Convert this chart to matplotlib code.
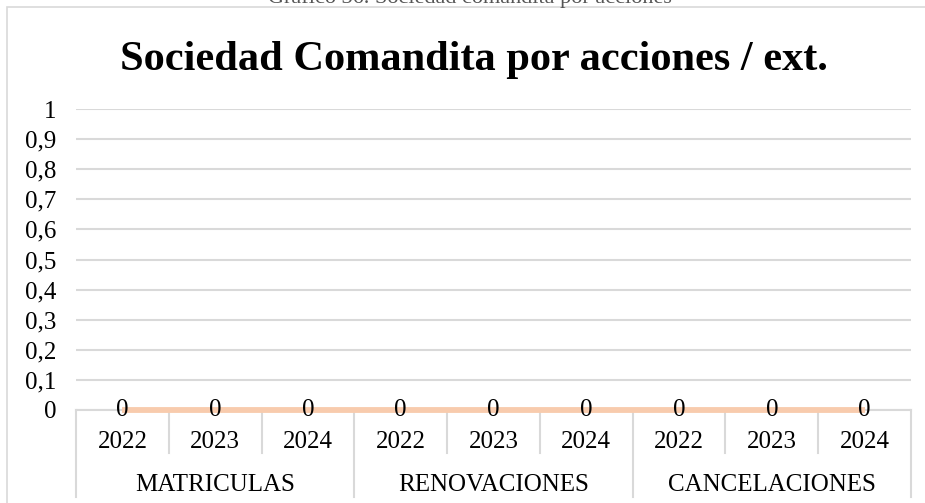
import matplotlib
matplotlib.use("Agg")
import matplotlib.pyplot as plt
from matplotlib.patches import Rectangle

# Datos
grupos = ["MATRICULAS", "RENOVACIONES", "CANCELACIONES"]
anios = ["2022", "2023", "2024"]
valores = [0, 0, 0, 0, 0, 0, 0, 0, 0]
y_ticks = [0, 0.1, 0.2, 0.3, 0.4, 0.5, 0.6, 0.7, 0.8, 0.9, 1]
y_labels = ["0", "0,1", "0,2", "0,3", "0,4", "0,5", "0,6", "0,7", "0,8", "0,9", "1"]

plt.rcParams["font.family"] = ["Liberation Serif", "DejaVu Serif"]

W, H = 925, 503
fig = plt.figure(figsize=(W / 100, H / 100), dpi=100)

# posicion del area del grafico en pixeles
x0, x1 = 76, 911
y_base, y_top = 410, 109
ax = fig.add_axes([x0 / W, (H - y_base) / H, (x1 - x0) / W, (y_base - y_top) / H])
alto = y_base - y_top

gris = "#D9D9D9"
fs = 18
n = len(valores)
x = list(range(n))

ax.plot(x, valores, color="#F8CBAD", linewidth=4.2, solid_capstyle="butt",
        zorder=3, clip_on=False)
for xi, v in zip(x, valores):
    ax.text(xi, v, str(v), ha="center", va="center", fontsize=fs, zorder=4)

ax.set_xlim(-0.5, n - 0.5)
ax.set_ylim(0, 1)
ax.set_yticks(y_ticks)
ax.set_yticklabels(y_labels, fontsize=fs)
ax.yaxis.grid(True, color=gris, linewidth=1.5)
ax.set_axisbelow(True)
ax.tick_params(axis="y", length=0, pad=14)
ax.tick_params(axis="x", length=0)
for s in ["top", "right", "left"]:
    ax.spines[s].set_visible(False)
ax.spines["bottom"].set_color(gris)
ax.spines["bottom"].set_linewidth(1.5)

# eje de categorias en dos niveles
ax.set_xticks(x)
ax.set_xticklabels(anios * len(grupos), fontsize=fs)
ax.tick_params(axis="x", pad=15)
tr = ax.get_xaxis_transform()
for k in range(n + 1):
    xs = k - 0.5
    largo = 87 if k % 3 == 0 else 43
    ax.plot([xs, xs], [0, -largo / alto], transform=tr, color=gris,
            linewidth=1.5, clip_on=False)
for i, g in enumerate(grupos):
    ax.text(3 * i + 1, -75 / alto, g, transform=tr, ha="center", va="center",
            fontsize=fs)

fig.text(474 / W, 1 - 60 / H, "Sociedad Comandita por acciones / ext.",
         fontsize=30.5, fontweight="bold", ha="center", va="center")

# marco exterior y texto cortado arriba
fig.patches.append(Rectangle((7 / W, -0.1), 1.2, 1.1 - 7 / H,
                             transform=fig.transFigure, fill=False,
                             edgecolor=gris, linewidth=1.2))
fig.text(470 / W, 1 - 3 / H, "Gráfico 36. Sociedad comandita por acciones",
         ha="center", va="baseline", fontsize=16, color="#555555")

fig.savefig("out.png", dpi=100)
